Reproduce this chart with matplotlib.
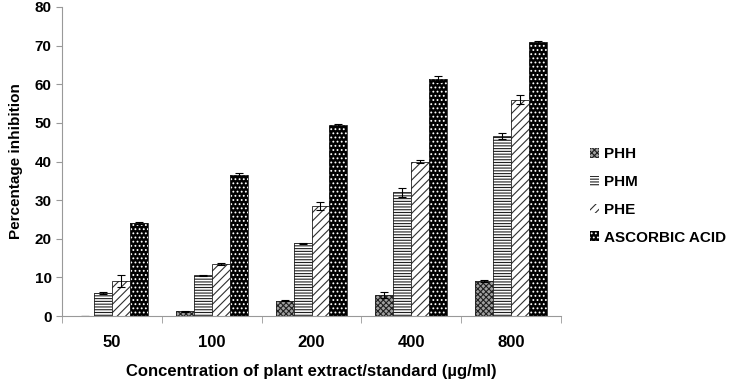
import numpy as np
import matplotlib
matplotlib.use("Agg")
import matplotlib.pyplot as plt

plt.rcParams['font.family'] = ['Liberation Sans', 'DejaVu Sans']
plt.rcParams['hatch.linewidth'] = 0.8

concentrations = ["50", "100", "200", "400", "800"]
series = ["PHH", "PHM", "PHE", "ASCORBIC ACID"]

phh = [0.0, 1.2, 4.0, 5.5, 9.0]
phm = [6.0, 10.5, 18.8, 32.0, 46.5]
phe = [9.0, 13.5, 28.5, 40.0, 56.0]
asc = [24.0, 36.5, 49.5, 61.3, 71.0]

phh_err = [0.0, 0.2, 0.2, 0.8, 0.2]
phm_err = [0.3, 0.2, 0.2, 1.2, 0.8]
phe_err = [1.5, 0.3, 1.0, 0.5, 1.2]
asc_err = [0.3, 0.6, 0.3, 0.8, 0.2]

fig = plt.figure(figsize=(7.32, 3.84), dpi=100)
ax = fig.add_axes([62 / 732, 68 / 384, 499 / 732, 309 / 384])

x = np.arange(len(concentrations))
w = 0.18
offsets = [-1.5 * w, -0.5 * w, 0.5 * w, 1.5 * w]
vals = [phh, phm, phe, asc]
errs = [phh_err, phm_err, phe_err, asc_err]
faces = ["#a0a0a0", "white", "white", "black"]
hatches = ["xxxxxx", "------", "////", "...."]
hcols = ["#202020", "#202020", "#303030", "white"]

handles = []
for v, e, off, fc, h, hc, name in zip(vals, errs, offsets, faces, hatches, hcols, series):
    ax.bar(x + off, v, w, color=fc, edgecolor=hc, hatch=h, linewidth=0)
    ax.bar(x + off, v, w, fill=False, edgecolor="#202020", linewidth=0.6)
    ax.errorbar(x + off, v, yerr=e, fmt="none", ecolor="black", elinewidth=0.8,
                capsize=3, capthick=0.8)
    handles.append(plt.Rectangle((0, 0), 1, 1, facecolor=fc, edgecolor=hc, hatch=h, linewidth=0))

ax.set_xlim(-0.5, len(concentrations) - 0.5)
ax.set_ylim(0, 80)
ax.set_yticks(range(0, 81, 10))
ax.set_xticks(x)
ax.set_xticklabels(concentrations, fontweight="bold", fontsize=12)
ax.set_xticks(np.arange(-0.5, len(concentrations), 1), minor=True)
ax.tick_params(axis="x", which="major", length=0, pad=14)
ax.tick_params(axis="x", which="minor", length=5, color="#999999")
ax.tick_params(axis="y", length=4, color="#999999", labelsize=11)
for lab in ax.get_yticklabels():
    lab.set_fontweight("bold")

for s in ["top", "right"]:
    ax.spines[s].set_visible(False)
ax.spines["left"].set_color("#999999")
ax.spines["bottom"].set_color("#999999")

ax.set_ylabel("Percentage inhibition", fontweight="bold", fontsize=11, labelpad=8)
ax.set_xlabel("Concentration of plant extract/standard (\u00b5g/ml)", fontweight="bold",
              fontsize=12, labelpad=10)

fig.legend(handles, series, loc="center left", bbox_to_anchor=(576 / 732, 1 - 196 / 384),
           frameon=False, prop={"weight": "bold", "size": 11}, handlelength=0.6,
           handleheight=0.6, labelspacing=0.9, handletextpad=0.35)

fig.savefig("out.png", dpi=100)
